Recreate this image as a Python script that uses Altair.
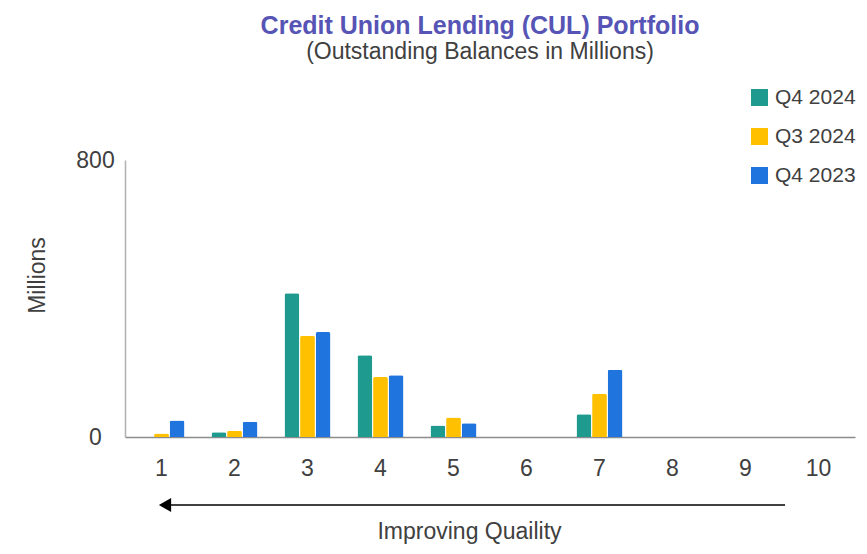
import altair as alt
import pandas as pd

categories = [1, 2, 3, 4, 5, 6, 7, 8, 9, 10]
series = ["Q4 2024", "Q3 2024", "Q4 2023"]
q4_2024 = [0, 14, 415, 236, 33, 0, 66, 0, 0, 0]
q3_2024 = [10, 18, 292, 173, 56, 0, 125, 0, 0, 0]
q4_2023 = [48, 44, 303, 178, 40, 0, 194, 0, 0, 0]
colors = ["#1F9A8F", "#FFC000", "#1F74DD"]

rows = []
for s, vals in zip(series, [q4_2024, q3_2024, q4_2023]):
    for c, v in zip(categories, vals):
        rows.append({"Grade": str(c), "Series": s, "Value": v})
df = pd.DataFrame(rows)

FONT = "Liberation Sans"
TXT = "#404040"

bars = alt.Chart(df).mark_bar(cornerRadiusTopLeft=2, cornerRadiusTopRight=2).encode(
    x=alt.X(
        "Grade:N",
        sort=[str(c) for c in categories],
        scale=alt.Scale(paddingInner=0.37, paddingOuter=0.185),
        axis=alt.Axis(
            labelAngle=0, labelFontSize=23, labelColor=TXT, labelPadding=20,
            ticks=False, tickSize=0, domainColor="#8c8c8c", domainWidth=1.5,
            title="Improving Quaility", titleFontSize=23, titleFontWeight="normal",
            titleColor=TXT, titleX=344, titleY=101, titleBaseline="alphabetic",
        ),
    ),
    xOffset=alt.XOffset("Series:N", sort=series, scale=alt.Scale(paddingInner=0.05)),
    y=alt.Y(
        "Value:Q",
        scale=alt.Scale(domain=[0, 800]),
        axis=alt.Axis(
            values=[0, 800], grid=False, ticks=False, tickSize=0,
            labelAlign="center", labelBaseline="middle", labelPadding=30,
            labelFontSize=23, labelColor=TXT,
            domainColor="#b0b0b0", domainWidth=1.5,
            title="Millions", titleFontSize=23, titleFontWeight="normal",
            titleColor=TXT, titleAngle=270, titleX=-88, titleY=115,
            titleAlign="center", titleBaseline="middle",
        ),
    ),
    color=alt.Color(
        "Series:N",
        sort=series,
        scale=alt.Scale(domain=series, range=colors),
        legend=alt.Legend(
            orient="none", legendX=624, legendY=-73, title=None,
            symbolType="square", symbolSize=289, symbolStrokeWidth=0,
            labelFontSize=21, labelColor=TXT, rowPadding=17, labelOffset=5,
            labelLimit=200,
        ),
    ),
)

one = pd.DataFrame({"a": [0]})
arrow_line = alt.Chart(one).mark_rule(color="black", strokeWidth=1.5).encode(
    x=alt.value(660), x2=alt.value(42), y=alt.value(345)
)
arrow_head = alt.Chart(one).mark_point(
    shape="triangle-left", filled=True, color="black", size=200, opacity=1
).encode(x=alt.value(40), y=alt.value(345))

chart = alt.layer(bars, arrow_line, arrow_head).properties(
    width=730,
    height=277,
    autosize=alt.AutoSizeParams(type="none"),
    padding={"left": 117, "top": 152, "right": 4, "bottom": 109},
    title=alt.Title(
        text="Credit Union Lending (CUL) Portfolio",
        subtitle="(Outstanding Balances in Millions)",
        fontSize=25, color="#5654B5", fontWeight="bold", font=FONT,
        subtitleFontSize=23, subtitleColor=TXT, subtitleFont=FONT,
        subtitlePadding=2,
        anchor="middle", dx=-10, offset=23,
    ),
).configure(font=FONT).configure_view(stroke=None)

chart.save("out.html", embed_options={"renderer": "svg", "actions": False})
